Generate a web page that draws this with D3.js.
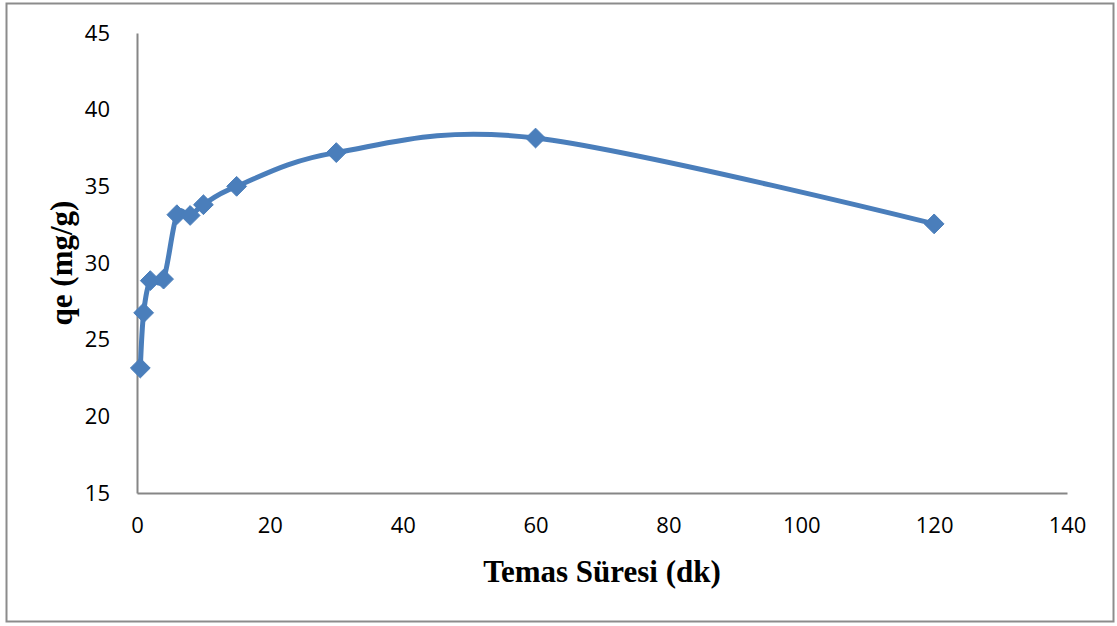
<!DOCTYPE html>
<html>
<head>
<meta charset="utf-8">
<script src="https://cdn.jsdelivr.net/npm/d3@7"></script>
<style>
  body { margin: 0; background: #fff; }
</style>
</head>
<body>
<svg id="chart" width="1117" height="626"></svg>
<script>
// data
const contactTime = [0.5, 1, 2, 4, 6, 8, 10, 15, 30, 60, 120];
const qeValues = [23.15, 26.75, 28.85, 28.95, 33.15, 33.1, 33.8, 35.0, 37.2, 38.15, 32.55];
const xTicks = [0, 20, 40, 60, 80, 100, 120, 140];
const yTicks = [15, 20, 25, 30, 35, 40, 45];

const margin = { top: 33, right: 50, bottom: 133, left: 137 };
const width = 1067 - margin.left;
const height = 493 - margin.top;

const root = d3.select("#chart");

// outer frame
root.append("rect")
    .attr("x", 6.5).attr("y", 3.5)
    .attr("width", 1107).attr("height", 618)
    .attr("fill", "none")
    .attr("stroke", "#8c8c8c")
    .attr("stroke-width", 2);

const svg = root.append("g")
    .attr("transform", `translate(${margin.left},${margin.top})`);

const points = contactTime.map((t, i) => ({ t: t, q: qeValues[i] }));

const xScale = d3.scaleLinear().domain([0, 140]).range([0, width]);
const yScale = d3.scaleLinear().domain([15, 45]).range([height, 0]);

// axes, no tick marks
const xAxis = svg.append("g")
    .attr("transform", `translate(0,${height})`)
    .call(d3.axisBottom(xScale).tickValues(xTicks).tickSize(0).tickPadding(24));

const yAxis = svg.append("g")
    .call(d3.axisLeft(yScale).tickValues(yTicks).tickSize(0).tickPadding(27));

[xAxis, yAxis].forEach(a => {
    a.select(".domain").attr("stroke", "#868686").attr("stroke-width", 2);
    a.selectAll("text")
        .attr("fill", "#000")
        .style("font-family", "'Open Sans', sans-serif")
        .style("font-size", "22px");
});

const line = d3.line()
    .x(d => xScale(d.t))
    .y(d => yScale(d.q))
    .curve(d3.curveCatmullRom.alpha(0));

svg.append("path")
    .datum(points)
    .attr("fill", "none")
    .attr("stroke", "#4A7EBB")
    .attr("stroke-width", 5)
    .attr("stroke-linejoin", "round")
    .attr("d", line);

svg.selectAll("path.marker")
    .data(points)
    .enter()
    .append("path")
    .attr("class", "marker")
    .attr("transform", d => `translate(${xScale(d.t)},${yScale(d.q)})`)
    .attr("d", d3.symbol().type(d3.symbolDiamond2).size(250))
    .attr("fill", "#4A7EBB")
    .attr("stroke", "#4A7EBB")
    .attr("stroke-width", 1);

// axis titles
svg.append("text")
    .attr("x", width / 2)
    .attr("y", height + 89)
    .attr("text-anchor", "middle")
    .style("font-family", "'Liberation Serif', 'Times New Roman', serif")
    .style("font-weight", "bold")
    .style("font-size", "31px")
    .text("Temas Süresi (dk)");

svg.append("text")
    .attr("transform", "rotate(-90)")
    .attr("x", -height / 2)
    .attr("y", -65)
    .attr("text-anchor", "middle")
    .style("font-family", "'Liberation Serif', 'Times New Roman', serif")
    .style("font-weight", "bold")
    .style("font-size", "31px")
    .text("qe (mg/g)");
</script>
</body>
</html>
